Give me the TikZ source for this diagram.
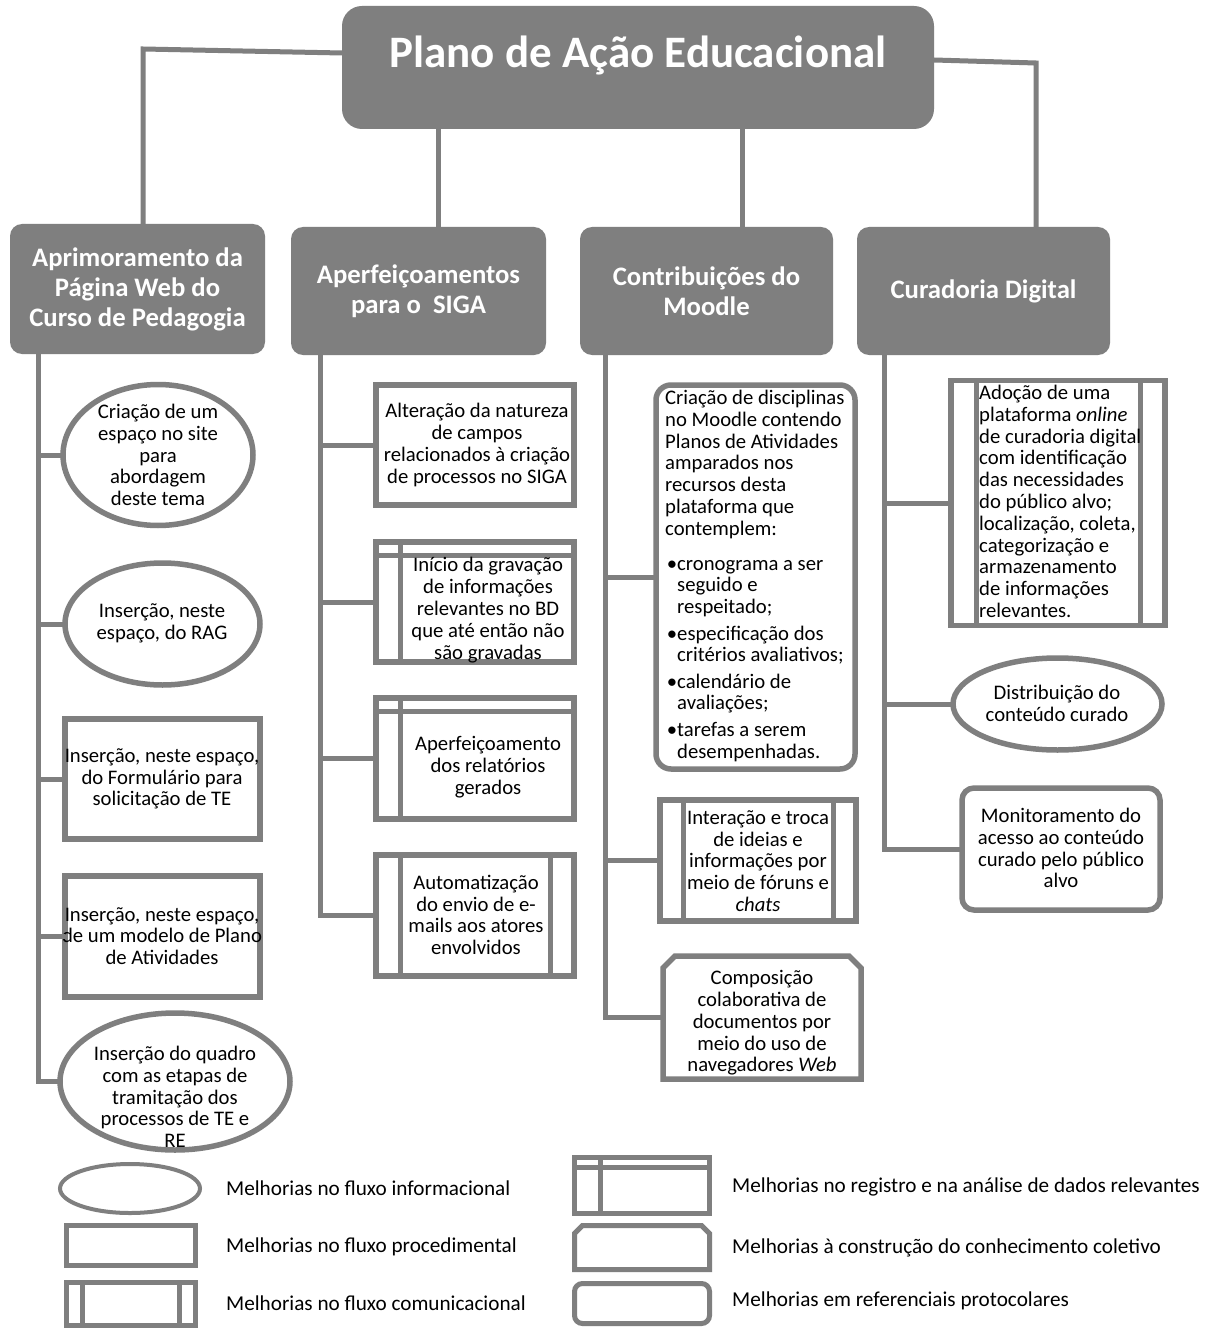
\documentclass[tikz,border=0pt]{standalone}
\usepackage{fontspec}
\setmainfont{Carlito}
\usetikzlibrary{shapes.geometric}
\definecolor{gr}{RGB}{127,127,127}
\newcommand\bodyf{\fontsize{20.7}{21.8}\selectfont}
\newcommand\legf{\fontsize{21.2}{24}\selectfont}
\newcommand\headf{\fontsize{26.7}{30}\selectfont\bfseries}
\newcommand\titlef{\fontsize{45}{50}\selectfont\bfseries}
\newcommand\bul{\makebox[12pt][r]{\textbullet}}
\newcommand\ind{\hspace*{12pt}}
\newcommand\commln[3][5pt]{%
  \draw[gr,line width=#1] ([xshift=#3]#2.north west) -- ([xshift=#3]#2.south west);
  \draw[gr,line width=#1] ([xshift=-#3]#2.north east) -- ([xshift=-#3]#2.south east);}
\newcommand\regln[4][5pt]{%
  \draw[gr,line width=#1] ([yshift=-#4]#2.north west) -- ([yshift=-#4]#2.north east);
  \draw[gr,line width=#1] ([xshift=#3]#2.north west) -- ([xshift=#3]#2.south west);}
\newcommand\chamf[3][5.5pt]{%
  \draw[gr,line width=#1,line join=miter] (#2.south west) -- ([yshift=-#3]#2.north west) -- ([xshift=#3]#2.north west)
    -- ([xshift=-#3]#2.north east) -- ([yshift=-#3]#2.north east) -- (#2.south east) -- cycle;}
\begin{document}
\begin{tikzpicture}[x=1pt,y=-1pt,
  sz/.style 2 args={minimum width=#1 pt,minimum height=#2 pt},
  box/.style={draw=gr,line width=5.5pt,rectangle,inner sep=0pt,outer sep=0pt},
  plain/.style={rectangle,draw=none,inner sep=0pt,outer sep=0pt},
  ell/.style={draw=gr,line width=5.5pt,ellipse,inner sep=0pt,outer sep=0pt},
  rbox/.style={box,rounded corners=14pt},
  hdr/.style={fill=gr,rounded corners=12pt,inner sep=0pt,outer sep=0pt},
  txt/.style={font=\bodyf,align=center,inner sep=0pt,text=black},
  ltxt/.style={font=\bodyf,align=left,inner sep=0pt,text=black},
  lgt/.style={font=\legf,anchor=west,inner sep=0pt,text=black},
  htxt/.style={font=\headf,text=white,align=center,inner sep=0pt},
  conn/.style={draw=gr,line width=5pt,line join=miter}]
\useasboundingbox[fill=white] (0,0) rectangle (1215,1329);

% title and headers
\node[hdr,rounded corners=20pt,sz={592}{123}] (title) at (638,67.5) {};
\node[htxt,font=\titlef] (titlet) at (638,55) {Plano de Ação Educacional};
\node[hdr,sz={255}{130}] (h1) at (137.5,289) {};
\node[htxt] (h1t) at (137.5,289) {Aprimoramento da\\Página Web do\\Curso de Pedagogia};
\node[hdr,sz={255}{128}] (h2) at (418.5,291) {};
\node[htxt] (h2t) at (418.5,291) {Aperfeiçoamentos\\para o\ \ SIGA};
\node[hdr,sz={253}{128}] (h3) at (706.5,291) {};
\node[htxt] (h3t) at (706.5,291) {Contribuições do\\Moodle};
\node[hdr,sz={253}{128}] (h4) at (983.5,291) {};
\node[htxt] (h4t) at (983.5,291) {Curadoria Digital};

\coordinate (k1) at (143,49);
\coordinate (k2) at (438,0);
\coordinate (k3) at (742,0);
\coordinate (k4) at (1036,63);
\draw[conn] ([yshift=14.5pt]title.west) -- (k1) -- (k1 |- h1.north);
\draw[conn] (k2 |- title.south) -- (k2 |- h2.north);
\draw[conn] (k3 |- title.south) -- (k3 |- h3.north);
\draw[conn] ([yshift=7.5pt]title.east) -- (k4) -- (k4 |- h4.north);

% column 1
\node[ell,sz={190}{141}] (a1) at (158,455) {};
\node[txt] (a1t) at (158,455) {Criação de um\\espaço no site\\para\\abordagem\\deste tema};
\node[ell,sz={195}{122}] (a2) at (162.5,624) {};
\node[txt] (a2t) at (162,623) {Inserção, neste\\espaço, do RAG};
\node[box,sz={195}{120}] (a3) at (162.5,779) {};
\node[txt] (a3t) at (162,779) {Inserção, neste espaço,\\do Formulário para\\solicitação de TE};
\node[box,sz={195}{121}] (a4) at (162.5,936.5) {};
\node[txt] (a4t) at (162,936) {Inserção, neste espaço,\\de um modelo de Plano\\de Atividades};
\node[ell,sz={230}{137}] (a5) at (175,1081.5) {};
\node[txt] (a5t) at (175,1097) {Inserção do quadro\\com as etapas de\\tramitação dos\\processos de TE e\\RE};
\coordinate (t1) at (38,0);
\draw[conn] (t1 |- h1.south) -- (t1 |- a5.west) -- (a5.west);
\foreach \n in {a1,a2,a3,a4} \draw[conn] (t1 |- \n.west) -- (\n.west);

% column 2
\node[box,sz={198}{120}] (b1) at (475,445) {};
\node[txt] (b1t) at (477,445) {Alteração da natureza\\de campos\\relacionados à criação\\de processos no SIGA};
\node[box,sz={198}{120}] (b2) at (475,602) {};
\regln{b2}{24pt}{13pt}
\node[txt] (b2t) at (488,610) {Início da gravação\\de informações\\relevantes no BD\\que até então não\\são gravadas};
\node[box,sz={198}{121}] (b3) at (475,758.5) {};
\regln{b3}{24pt}{13pt}
\node[txt] (b3t) at (488,767) {Aperfeiçoamento\\dos relatórios\\gerados};
\node[box,sz={198}{121}] (b4) at (475,915.5) {};
\commln{b4}{24pt}
\node[txt] (b4t) at (476,915) {Automatização\\do envio de e-\\mails aos atores\\envolvidos};
\coordinate (t2) at (320,0);
\draw[conn] (t2 |- h2.south) -- (t2 |- b4.west) -- (b4.west);
\foreach \n in {b1,b2,b3} \draw[conn] (t2 |- \n.west) -- (\n.west);

% column 3
\node[rbox,rounded corners=15pt,sz={199}{384}] (c1) at (755.5,577) {};
\node[ltxt,anchor=north west] (c1t) at (665,390) {Criação de disciplinas\\no Moodle contendo\\Planos de Atividades\\amparados nos\\recursos desta\\plataforma que\\contemplem:\\[13pt]
\bul cronograma a ser\\\ind seguido e\\\ind respeitado;\\[4.5pt]
\bul especificação dos\\\ind critérios avaliativos;\\[4.5pt]
\bul calendário de\\\ind avaliações;\\[4.5pt]
\bul tarefas a serem\\\ind desempenhadas.};
\node[box,sz={196}{121}] (c2) at (758,860.5) {};
\commln{c2}{23pt}
\node[txt] (c2t) at (758,861) {Interação e troca\\de ideias e\\informações por\\meio de fóruns e\\\textit{chats}};
\node[plain,sz={198}{123}] (c3) at (762,1017.5) {};
\chamf{c3}{12pt}
\node[txt] (c3t) at (762,1023) {Composição\\colaborativa de\\documentos por\\meio do uso de\\navegadores \textit{Web}};
\coordinate (t3) at (605,0);
\draw[conn] (t3 |- h3.south) -- (t3 |- c3.west) -- (c3.west);
\foreach \n in {c1,c2} \draw[conn] (t3 |- \n.west) -- (\n.west);

% column 4
\node[box,sz={214}{245}] (d1) at (1058,503) {};
\commln{d1}{25pt}
\node[ltxt,anchor=north west] (d1t) at (979,385) {Adoção de uma\\plataforma \textit{online}\\de curadoria digital\\com identificação\\das necessidades\\do público alvo;\\localização, coleta,\\categorização e\\armazenamento\\de informações\\relevantes.};
\node[ell,sz={209}{92}] (d2) at (1057.5,704) {};
\node[txt] (d2t) at (1057,703) {Distribuição do\\conteúdo curado};
\node[rbox,rounded corners=12pt,sz={198}{122}] (d3) at (1061,849) {};
\node[txt] (d3t) at (1061,848) {Monitoramento do\\acesso ao conteúdo\\curado pelo público\\alvo};
\coordinate (t4) at (884,0);
\draw[conn] (t4 |- h4.south) -- (t4 |- d3.west) -- (d3.west);
\foreach \n in {d1,d2} \draw[conn] (t4 |- \n.west) -- (\n.west);

% legend
\node[ell,line width=4pt,sz={140}{49}] (l1) at (130,1188.5) {};
\node[lgt] (l1t) at (226,1188) {Melhorias no fluxo informacional};
\node[box,line width=5pt,sz={129}{40}] (l2) at (131,1245.5) {};
\node[lgt] (l2t) at (226,1247) {Melhorias no fluxo procedimental};
\node[box,line width=5pt,sz={129}{43}] (l3) at (131,1304) {};
\commln{l3}{16pt}
\node[lgt] (l3t) at (226,1303) {Melhorias no fluxo comunicacional};
\node[box,line width=5pt,sz={135}{56}] (l4) at (642,1185.5) {};
\regln{l4}{26pt}{10pt}
\node[lgt] (l4t) at (732,1187) {Melhorias no registro e na análise de dados relevantes};
\node[plain,sz={135}{44}] (l5) at (642,1247.5) {};
\chamf[5pt]{l5}{8pt}
\node[lgt] (l5t) at (732,1248) {Melhorias à construção do conhecimento coletivo};
\node[rbox,line width=5pt,rounded corners=8pt,sz={135}{40}] (l6) at (642,1303.5) {};
\node[lgt] (l6t) at (732,1301) {Melhorias em referenciais protocolares};
\end{tikzpicture}
\end{document}
